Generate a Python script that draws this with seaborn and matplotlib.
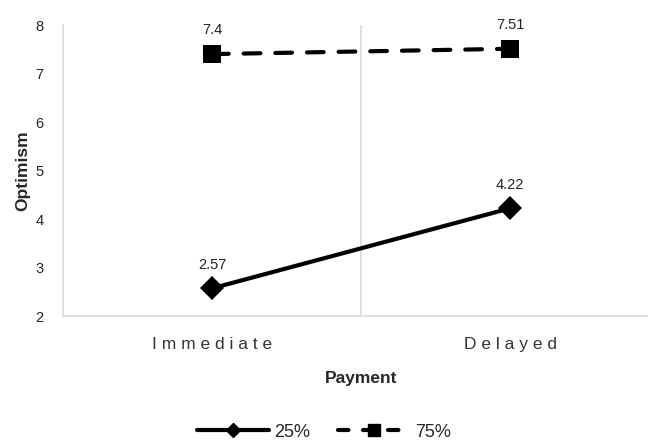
import pandas as pd
import matplotlib

matplotlib.use('Agg')
import matplotlib.pyplot as plt
import seaborn as sns

# data
payment = ["Immediate", "Delayed"]
pct_25 = [2.57, 4.22]
pct_75 = [7.4, 7.51]
groups = ["25%", "75%"]
y_ticks = [2, 3, 4, 5, 6, 7, 8]

df = pd.DataFrame({
    "Payment": payment * 2,
    "Optimism": pct_25 + pct_75,
    "Group": [groups[0]] * 2 + [groups[1]] * 2,
})
df["x"] = df["Payment"].map({p: i for i, p in enumerate(payment)})

sns.set_theme(style="white")
plt.rcParams['font.family'] = ['Liberation Sans', 'DejaVu Sans']

fig = plt.figure(figsize=(6.48, 4.48), dpi=100)
ax = fig.add_axes([63 / 648, 1 - 316 / 448, 596 / 648, 291 / 448])

lw = 3.0
sns.lineplot(data=df, x="x", y="Optimism", hue="Group", style="Group",
             palette=["black", "black"], markers={"25%": "D", "75%": "s"},
             dashes={"25%": "", "75%": (4.0, 3.6)}, linewidth=lw,
             markersize=10, markeredgewidth=0, ax=ax, legend=False)
ax.lines[0].set_markersize(12)
ax.lines[1].set_markersize(12.5)
ax.lines[1].set_dash_capstyle('round')

# data labels
for vals in (pct_25, pct_75):
    for i, v in enumerate(vals):
        ax.annotate(f"{v:g}", (i, v), xytext=(0, 12), textcoords="offset points",
                    ha="center", va="bottom", fontsize=10.5, color="#222222")

ax.set_xlim(-0.5, 1.5)
ax.set_ylim(2, 8)
ax.set_yticks(y_ticks)
ax.set_xticks(range(len(payment)))
ax.set_xticklabels([" ".join(p) for p in payment], fontsize=12.5, color="#333333")
ax.tick_params(axis="y", labelsize=10.5, labelcolor="#222222", length=0, pad=14)
ax.tick_params(axis="x", length=0, pad=15)
ax.axvline(0.5, color="#d9d9d9", lw=1.2, zorder=0)

for s in ["top", "right"]:
    ax.spines[s].set_visible(False)
for s in ["left", "bottom"]:
    ax.spines[s].set_color("#d9d9d9")
    ax.spines[s].set_linewidth(1.2)

ax.set_xlabel("Payment", fontsize=12.5, fontweight="bold", labelpad=14)
ax.set_ylabel("Optimism", fontsize=12.5, fontweight="bold", labelpad=4)

handles = [
    plt.Line2D([], [], color="black", lw=lw, marker="D", markersize=7),
    plt.Line2D([], [], color="black", lw=lw, marker="s", markersize=9,
               linestyle=(0, (2.5, 3.5)), dash_capstyle='round'),
]
fig.legend(handles, groups, loc="center", bbox_to_anchor=(0.5, 1 - 432 / 448),
           ncol=2, frameon=False, fontsize=13, handlelength=4.0,
           columnspacing=1.5, handletextpad=0.3)

fig.savefig("out.png", dpi=100)
